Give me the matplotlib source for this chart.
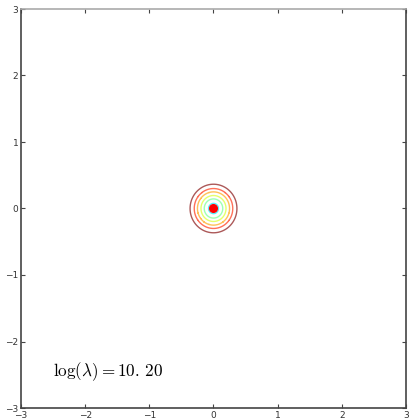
import numpy as np
import matplotlib
matplotlib.use('Agg')
import matplotlib.pyplot as plt

plt.rcParams['mathtext.fontset'] = 'cm'

# contour levels (radius of each ring)
levels = [0.077, 0.144, 0.195, 0.25, 0.30, 0.365]
center_x = [0.0]
center_y = [0.0]
label = r'$\log(\lambda) = 10.\,20$'
ticks = [-3, -2, -1, 0, 1, 2, 3]

# grid for the contour
xs = np.linspace(-3, 3, 601)
X, Y = np.meshgrid(xs, xs)
Z = np.sqrt((X - center_x[0])**2 + (Y - center_y[0])**2)

fig = plt.figure(figsize=(4.09, 4.19), dpi=100)
ax = fig.add_axes([21/409, 11/419, 385/409, 399/419])

cmap = plt.get_cmap('jet')
colors = [cmap(v) for v in np.linspace(0.35, 1.0, len(levels))]
ax.contour(X, Y, Z, levels=levels, colors=colors, linewidths=1.0, alpha=0.65)
ax.plot(center_x, center_y, 'o', color='red', markersize=5.5, markeredgecolor='red')

ax.text(-2.5, -2.45, label, fontsize=12.3, va='center', ha='left')

ax.set_xlim(-3, 3)
ax.set_ylim(-3, 3)
ax.set_xticks(ticks)
ax.set_yticks(ticks)
ax.tick_params(direction='in', length=3, width=0.8, colors='#444444',
               labelcolor='#333333', labelsize=6.5, top=True, right=True, pad=2)
for side in ['left', 'bottom', 'right']:
    ax.spines[side].set_color('#444444')
    ax.spines[side].set_linewidth(1.2)
ax.spines['top'].set_color('#aaaaaa')
ax.spines['top'].set_linewidth(1.2)

fig.savefig('out.png', dpi=100)
